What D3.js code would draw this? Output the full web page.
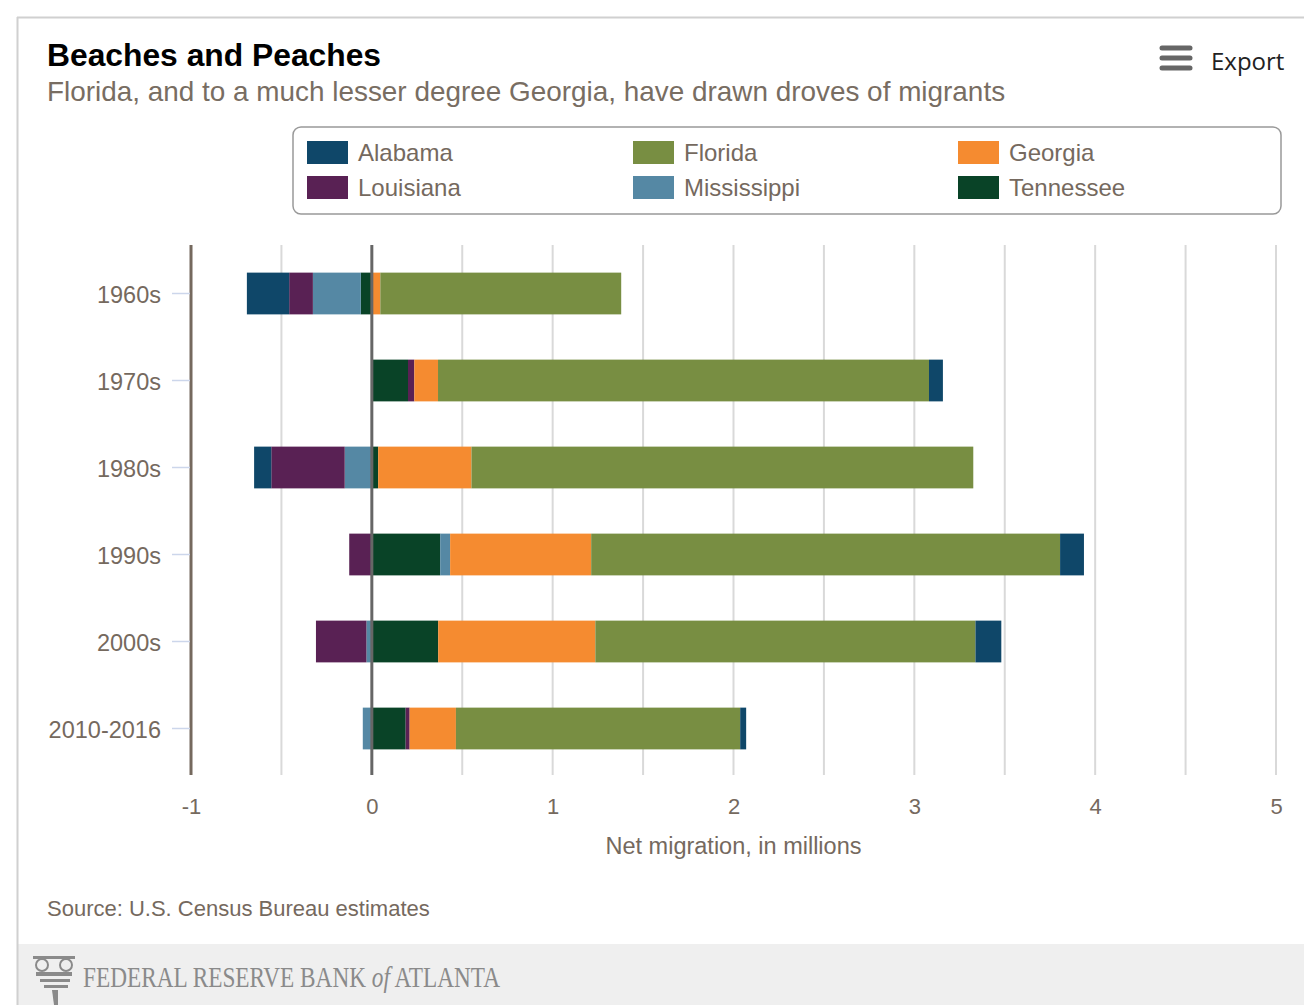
<!DOCTYPE html>
<html><head><meta charset="utf-8">
<script src="https://cdn.jsdelivr.net/npm/d3@7"></script>
<style>
html,body{margin:0;padding:0;background:#fff;}
svg{display:block;font-family:"Liberation Sans",Arial,sans-serif;}
</style></head>
<body><svg id="chart" width="1304" height="1005"></svg>
<script>
// ---- data ----
const categories = ["1960s","1970s","1980s","1990s","2000s","2010-2016"];
const states = ["Alabama","Florida","Georgia","Louisiana","Mississippi","Tennessee"];
const alabama     = [-0.234, 0.077, -0.095, 0.132, 0.143, 0.033];
const florida     = [ 1.332, 2.715,  2.775, 2.593, 2.102, 1.572];
const georgia     = [ 0.047, 0.131,  0.516, 0.780, 0.869, 0.256];
const louisiana   = [-0.131, 0.035, -0.406, -0.125, -0.279, 0.022];
const mississippi = [-0.265, 0.000, -0.150, 0.055, -0.030, -0.050];
const tennessee   = [-0.061, 0.200,  0.035, 0.378, 0.367, 0.187];
const xTicks = [-1, 0, 1, 2, 3, 4, 5];
const xGrid = [-0.5, 0.5, 1, 1.5, 2, 2.5, 3, 3.5, 4, 4.5, 5];
const colors = ["#0f4769","#788e42","#f58b30","#592154","#5588a4","#094327"];

const seriesVals = [alabama, florida, georgia, louisiana, mississippi, tennessee];
const rows = categories.map((c,i)=>{
  const r = {cat:c};
  states.forEach((s,j)=> r[s] = seriesVals[j][i]);
  return r;
});

const svg = d3.select("#chart");
const textCol = "#75695e";

// frame
svg.append("rect").attr("x",17).attr("y",944).attr("width",1287).attr("height",61).attr("fill","#efefef");
svg.append("line").attr("x1",17).attr("x2",1304).attr("y1",17.5).attr("y2",17.5).attr("stroke","#d0d0d0").attr("stroke-width",2);
svg.append("line").attr("x1",17.5).attr("x2",17.5).attr("y1",17).attr("y2",1005).attr("stroke","#d0d0d0").attr("stroke-width",2);

// title
svg.append("text").attr("x",47).attr("y",66).attr("font-size",31.8).attr("font-weight","bold").attr("fill","#000").text("Beaches and Peaches");
svg.append("text").attr("x",47).attr("y",101).attr("font-size",27.9).attr("fill","#786d62")
  .text("Florida, and to a much lesser degree Georgia, have drawn droves of migrants");

// export button
const ex = svg.append("g");
[48,58,68].forEach(yy=> ex.append("line").attr("x1",1162).attr("x2",1190).attr("y1",yy).attr("y2",yy)
  .attr("stroke","#666").attr("stroke-width",5).attr("stroke-linecap","round"));
ex.append("text").attr("x",1211).attr("y",70).attr("font-size",24).attr("font-family","'Open Sans',sans-serif").attr("fill","#222").text("Export");

// legend
svg.append("rect").attr("x",293).attr("y",127).attr("width",988).attr("height",87).attr("rx",8)
  .attr("fill","#fff").attr("stroke","#999").attr("stroke-width",1.5);
const legCols = [307, 633, 958], legRows = [141, 176];
states.forEach((s,i)=>{
  const cx = legCols[i%3], cy = legRows[Math.floor(i/3)];
  svg.append("rect").attr("x",cx).attr("y",cy).attr("width",41).attr("height",23).attr("fill",colors[i]);
  svg.append("text").attr("x",cx+51).attr("y",cy+20).attr("font-size",24).attr("fill",textCol).text(s);
});

// scales
const x = d3.scaleLinear().domain([-1,5]).range([191,1276]);
const y = d3.scaleBand().domain(categories).range([250,772]).paddingInner(0.52).paddingOuter(0.26);

// grid
svg.append("g").selectAll("line").data(xGrid).join("line")
  .attr("x1",d=>x(d)).attr("x2",d=>x(d)).attr("y1",245).attr("y2",775)
  .attr("stroke","#d9d9d9").attr("stroke-width",2);

// bars
const stack = d3.stack().keys(states.slice().reverse()).offset(d3.stackOffsetDiverging);
const layers = stack(rows);
const g = svg.append("g");
layers.forEach(layer=>{
  const ci = states.indexOf(layer.key);
  g.append("g").attr("fill",colors[ci]).selectAll("rect").data(layer).join("rect")
    .attr("x",d=>x(Math.min(d[0],d[1])))
    .attr("width",d=>Math.abs(x(d[1])-x(d[0])))
    .attr("y",d=>y(d.data.cat))
    .attr("height",y.bandwidth());
});

// zero line and y axis line
svg.append("line").attr("x1",x(0)).attr("x2",x(0)).attr("y1",245).attr("y2",775).attr("stroke","#666").attr("stroke-width",3);
svg.append("line").attr("x1",x(-1)).attr("x2",x(-1)).attr("y1",245).attr("y2",775).attr("stroke","#75695e").attr("stroke-width",3);

// y axis
const ya = svg.append("g").attr("transform","translate(190,0)").call(d3.axisLeft(y).tickSize(18).tickPadding(11));
ya.select(".domain").remove();
ya.selectAll(".tick line").attr("stroke","#ccd6eb").attr("stroke-width",1.5);
ya.selectAll(".tick text").attr("font-size",23.5).attr("fill",textCol).attr("dy","0.42em").attr("font-family","'Liberation Sans',Arial,sans-serif");

// x axis
const xa = svg.append("g").attr("transform","translate(0,790)").call(d3.axisBottom(x).tickValues(xTicks).tickSize(0).tickPadding(8).tickFormat(d=>String(d)));
xa.select(".domain").remove();
xa.selectAll(".tick text").attr("font-size",22).attr("fill",textCol).attr("font-family","'Liberation Sans',Arial,sans-serif");

svg.append("text").attr("x",x(2)).attr("y",854).attr("text-anchor","middle").attr("font-size",23.5).attr("fill",textCol).text("Net migration, in millions");

svg.append("text").attr("x",47).attr("y",916).attr("font-size",22).attr("fill",textCol).text("Source: U.S. Census Bureau estimates");

// footer logo
const lg = svg.append("g").attr("fill","#8a8a8a").attr("stroke","none");
lg.append("rect").attr("x",33).attr("y",956).attr("width",42).attr("height",3);
lg.append("circle").attr("cx",42).attr("cy",965).attr("r",6).attr("fill","none").attr("stroke","#8a8a8a").attr("stroke-width",2);
lg.append("circle").attr("cx",66).attr("cy",965).attr("r",6).attr("fill","none").attr("stroke","#8a8a8a").attr("stroke-width",2);
lg.append("rect").attr("x",36).attr("y",972).attr("width",36).attr("height",4);
lg.append("rect").attr("x",40).attr("y",979).attr("width",30).attr("height",3);
lg.append("rect").attr("x",44).attr("y",985).attr("width",24).attr("height",3);
lg.append("path").attr("d","M52 990 L58 990 L58 1005 L54 1005 Z");
const ff = "'Liberation Serif','Times New Roman',serif";
const ft = svg.append("text").attr("transform","translate(83,987) scale(0.776,1)")
  .attr("font-size",30).attr("font-family",ff).attr("fill","#8a8a8a");
ft.append("tspan").text("FEDERAL RESERVE BANK ");
ft.append("tspan").attr("font-style","italic").text("of");
ft.append("tspan").text(" ATLANTA");
</script></body></html>
